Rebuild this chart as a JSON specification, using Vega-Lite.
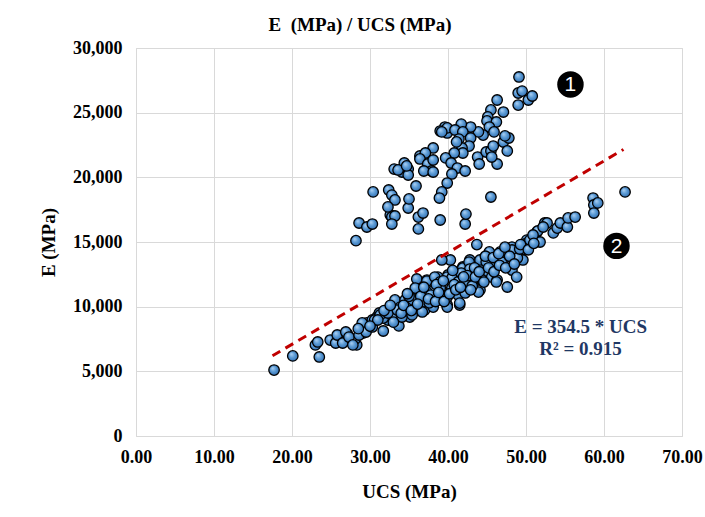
{
  "$schema": "https://vega.github.io/schema/vega-lite/v6.json",
  "width": 546,
  "height": 388,
  "autosize": {"type": "none"},
  "padding": {"left": 136, "top": 48, "right": 23, "bottom": 81},
  "background": "white",
  "title": {"text": "E \u00a0(MPa) / UCS (MPa)", "font": "Liberation Serif", "fontSize": 19, "fontWeight": "bold", "color": "#000000", "anchor": "middle", "dx": -49, "offset": 4},
  "config": {
    "view": {"stroke": "#D9D9D9", "strokeWidth": 1},
    "axis": {"grid": true, "gridColor": "#D9D9D9", "gridWidth": 1, "domain": false, "ticks": false, "labelFlush": false, "labelOverlap": false,
      "labelFont": "Liberation Serif", "labelFontWeight": "bold", "labelFontSize": 18, "labelColor": "#000000",
      "titleFont": "Liberation Serif", "titleFontWeight": "bold", "titleFontSize": 19, "titleColor": "#000000"}
  },
  "datasets": {
    "pts": [
      {"u":17.7,"e":5100},{"u":20.1,"e":6190},{"u":23.0,"e":7040},{"u":23.5,"e":6110},{"u":23.3,"e":7270},{"u":24.9,"e":7420},{"u":25.6,"e":7190},{"u":25.8,"e":7810},{"u":27.1,"e":7890},{"u":27.2,"e":7420},{"u":28.3,"e":7040},{"u":28.1,"e":7500},{"u":29.1,"e":7960},{"u":29.6,"e":8740},{"u":29.1,"e":8580},{"u":30.3,"e":8970},{"u":30.9,"e":9200},{"u":31.7,"e":8120},{"u":31.2,"e":9510},{"u":32.1,"e":9360},{"u":32.3,"e":8970},{"u":32.9,"e":9510},{"u":33.2,"e":10520},{"u":33.9,"e":9970},{"u":33.7,"e":8510},{"u":34.5,"e":10520},{"u":34.7,"e":9590},{"u":35.1,"e":9200},{"u":35.5,"e":9970},{"u":35.5,"e":10670},{"u":36.0,"e":12140},{"u":36.4,"e":11130},{"u":36.8,"e":10520},{"u":37.0,"e":9740},{"u":37.3,"e":12060},{"u":38.1,"e":9970},{"u":38.2,"e":11290},{"u":38.7,"e":12290},{"u":38.9,"e":10670},{"u":39.6,"e":11130},{"u":39.9,"e":10130},{"u":40.0,"e":12450},{"u":40.3,"e":13610},{"u":39.2,"e":13610},{"u":40.5,"e":11440},{"u":40.9,"e":12290},{"u":41.3,"e":10900},{"u":41.5,"e":10130},{"u":41.9,"e":13070},{"u":42.2,"e":11130},{"u":42.6,"e":12060},{"u":42.8,"e":13610},{"u":43.2,"e":11680},{"u":43.7,"e":12840},{"u":44.1,"e":11290},{"u":44.5,"e":13300},{"u":45.0,"e":12680},{"u":45.3,"e":14230},{"u":45.4,"e":13380},{"u":45.6,"e":12290},{"u":46.0,"e":13070},{"u":46.3,"e":12060},{"u":46.7,"e":14230},{"u":47.1,"e":13610},{"u":47.6,"e":11520},{"u":47.7,"e":14380},{"u":48.2,"e":12830},{"u":48.2,"e":14610},{"u":48.8,"e":12290},{"u":49.0,"e":13840},{"u":49.5,"e":14380},{"u":49.6,"e":13610},{"u":50.1,"e":15150},{"u":50.8,"e":15310},{"u":51.4,"e":15770},{"u":51.8,"e":15000},{"u":52.4,"e":16470},{"u":43.7,"e":14800},
      {"u":37.3,"e":11980},{"u":38.3,"e":12290},{"u":39.0,"e":11910},{"u":39.9,"e":12290},{"u":40.5,"e":12220},{"u":41.3,"e":11910},{"u":41.9,"e":12990},{"u":42.7,"e":13450},{"u":42.8,"e":12910},{"u":43.7,"e":12680},{"u":44.1,"e":13610},{"u":44.9,"e":13450},{"u":46.2,"e":13450},{"u":46.9,"e":13450},{"u":47.1,"e":14230},{"u":48.2,"e":14380},{"u":48.9,"e":13760},{"u":46.2,"e":11910},{"u":43.9,"e":11130},{"u":42.2,"e":11060},{"u":41.5,"e":10280},{"u":39.9,"e":9970},{"u":36.8,"e":10360},{"u":35.5,"e":10520},{"u":34.5,"e":9740},{"u":32.2,"e":9740},{"u":32.9,"e":9200},{"u":34.1,"e":9200},{"u":35.4,"e":9360},{"u":36.7,"e":9590},{"u":39.9,"e":10750},{"u":37.3,"e":11130},{"u":39.0,"e":11440},{"u":31.7,"e":9120},{"u":35.8,"e":11440},{"u":38.0,"e":10670},{"u":42.2,"e":11910},{"u":43.1,"e":11600},
      {"u":49.2,"e":14460},{"u":50.1,"e":14920},{"u":50.5,"e":15150},{"u":51.5,"e":15850},{"u":52.7,"e":16470},{"u":53.5,"e":15700},{"u":54.0,"e":16080},{"u":54.4,"e":16470},{"u":55.3,"e":16160},{"u":55.4,"e":16860},{"u":56.3,"e":16930},{"u":58.6,"e":18400},{"u":58.7,"e":17860},{"u":58.7,"e":17240},{"u":59.2,"e":18020},{"u":62.7,"e":18870},{"u":50.9,"e":15540},{"u":52.2,"e":16160},
      {"u":26.5,"e":7190},{"u":26.9,"e":8040},{"u":27.3,"e":7650},{"u":27.8,"e":7040},{"u":28.6,"e":7810},{"u":29.0,"e":8740},{"u":29.5,"e":8040},{"u":30.3,"e":8430},{"u":30.6,"e":8970},{"u":31.3,"e":9360},{"u":32.3,"e":9510},{"u":33.5,"e":9740},{"u":31.0,"e":8970},
      {"u":36.5,"e":10800},{"u":37.6,"e":10300},{"u":38.5,"e":11700},{"u":39.4,"e":12000},{"u":40.8,"e":11700},{"u":41.7,"e":12600},{"u":42.5,"e":12400},{"u":43.4,"e":13000},{"u":44.3,"e":12100},{"u":44.8,"e":13900},{"u":45.8,"e":13800},{"u":46.5,"e":14100},{"u":47.3,"e":14600},{"u":37.8,"e":10900},{"u":35.0,"e":10800},{"u":34.0,"e":9500},{"u":30.0,"e":8500},{"u":28.5,"e":8300},
      {"u":31.8,"e":9700},{"u":32.6,"e":10100},{"u":33.0,"e":8800},{"u":34.3,"e":10100},{"u":34.8,"e":11000},{"u":35.3,"e":9700},{"u":36.1,"e":10200},{"u":36.9,"e":11500},{"u":37.5,"e":10600},{"u":38.4,"e":10400},{"u":38.8,"e":11100},{"u":39.5,"e":10400},{"u":40.2,"e":11000},{"u":40.6,"e":12800},{"u":41.0,"e":11300},{"u":41.6,"e":11500},{"u":42.0,"e":12300},{"u":42.9,"e":11300},{"u":43.5,"e":12300},{"u":44.0,"e":12700},{"u":44.6,"e":11900},{"u":45.2,"e":13000},{"u":45.9,"e":12700},{"u":46.6,"e":13200},{"u":47.4,"e":13000},{"u":47.9,"e":13900},{"u":48.5,"e":13300},{"u":49.3,"e":14800},{"u":50.3,"e":14400},{"u":51.0,"e":14900},
      {"u":28.2,"e":15100},{"u":28.6,"e":16470},{"u":29.6,"e":16160},{"u":30.3,"e":16390},{"u":30.4,"e":18870},{"u":32.4,"e":19020},{"u":32.6,"e":17090},{"u":32.8,"e":18630},{"u":33.2,"e":18250},{"u":32.3,"e":17710},{"u":32.8,"e":16930},{"u":33.2,"e":17010},{"u":32.8,"e":16390},{"u":34.9,"e":17630},{"u":35.0,"e":18330},{"u":35.9,"e":19330},{"u":36.2,"e":16930},{"u":36.2,"e":16010},{"u":33.1,"e":20640},{"u":34.4,"e":21110},{"u":34.1,"e":20410},{"u":34.9,"e":20640},{"u":34.9,"e":20180},{"u":36.4,"e":21650},
      {"u":39.6,"e":23890},{"u":39.0,"e":23580},{"u":39.9,"e":23430},{"u":38.1,"e":22270},{"u":37.1,"e":21880},{"u":36.4,"e":21420},{"u":37.4,"e":21030},{"u":37.9,"e":20490},{"u":33.6,"e":20570},{"u":34.7,"e":20880},{"u":36.9,"e":20490},
      {"u":49.1,"e":27760},{"u":49.0,"e":26520},{"u":49.5,"e":26670},{"u":49.0,"e":25590},{"u":50.3,"e":25980},{"u":50.8,"e":26290},{"u":46.3,"e":25980},{"u":45.5,"e":25210},{"u":47.1,"e":25050},{"u":45.1,"e":24670},{"u":45.0,"e":24360},{"u":46.2,"e":24280},{"u":45.3,"e":23890},{"u":45.9,"e":23510},{"u":44.5,"e":23270},{"u":43.9,"e":23510},{"u":42.9,"e":23890},{"u":41.7,"e":24120},{"u":39.9,"e":23820},{"u":39.2,"e":23510},{"u":40.9,"e":23660},{"u":41.9,"e":23510},{"u":41.4,"e":22960},{"u":42.9,"e":23040},{"u":42.7,"e":22420},{"u":41.8,"e":22270},{"u":41.1,"e":22740},{"u":41.9,"e":21880},{"u":40.8,"e":21880},{"u":39.7,"e":21500},{"u":40.4,"e":21110},{"u":41.2,"e":20720},{"u":42.2,"e":20490},{"u":40.5,"e":20260},{"u":39.9,"e":19560},{"u":38.1,"e":21340},{"u":38.1,"e":20410},{"u":39.2,"e":18870},{"u":38.9,"e":18400},{"u":45.5,"e":18480},{"u":43.8,"e":21570},{"u":44.0,"e":21030},{"u":44.9,"e":21960},{"u":45.5,"e":22040},{"u":45.8,"e":22420},{"u":46.3,"e":21030},{"u":47.1,"e":22730},{"u":47.6,"e":22040},{"u":47.8,"e":23040},{"u":47.3,"e":23200},{"u":45.6,"e":21570},
      {"u":42.2,"e":16390},{"u":42.3,"e":17160},{"u":39.0,"e":16700},{"u":36.8,"e":17240}
    ],
    "trend": [{"u":17.5,"e":6204},{"u":62.5,"e":22156}],
    "badges": [{"u":55.7,"e":27180,"t":"1"},{"u":61.6,"e":14700,"t":"2"}],
    "notes": [{"u":57.0,"e":8430,"t":"E = 354.5 * UCS"},{"u":57.0,"e":6730,"t":"R² = 0.915"}]
  },
  "layer": [
    {
      "data": {"name": "pts"},
      "mark": {"type": "point", "filled": true, "size": 110, "opacity": 1, "stroke": "#000000", "strokeWidth": 1.3,
        "fill": {"gradient": "radial", "x1": 0.35, "y1": 0.3, "r1": 0, "x2": 0.5, "y2": 0.5, "r2": 0.55,
          "stops": [{"offset": 0, "color": "#B5D5F5"}, {"offset": 0.5, "color": "#5B9BD5"}, {"offset": 1, "color": "#2E6AAE"}]}},
      "encoding": {
        "x": {"field": "u", "type": "quantitative", "title": "UCS (MPa)",
          "scale": {"domain": [0, 70], "nice": false, "zero": true},
          "axis": {"values": [0, 10, 20, 30, 40, 50, 60, 70], "format": ".2f", "labelPadding": 12, "titlePadding": 16}},
        "y": {"field": "e", "type": "quantitative", "title": "E (MPa)",
          "scale": {"domain": [0, 30000], "nice": false},
          "axis": {"values": [0, 5000, 10000, 15000, 20000, 25000, 30000], "format": ",d", "labelPadding": 14, "titlePadding": 14}}
      }
    },
    {
      "data": {"name": "trend"},
      "mark": {"type": "line", "color": "#C00000", "strokeWidth": 3, "strokeDash": [9, 6]},
      "encoding": {"x": {"field": "u", "type": "quantitative"}, "y": {"field": "e", "type": "quantitative"}}
    },
    {
      "data": {"name": "badges"},
      "mark": {"type": "point", "filled": true, "size": 700, "color": "#000000", "opacity": 1},
      "encoding": {"x": {"field": "u", "type": "quantitative"}, "y": {"field": "e", "type": "quantitative"}}
    },
    {
      "data": {"name": "badges"},
      "mark": {"type": "text", "color": "#FFFFFF", "font": "Liberation Sans", "fontSize": 21, "align": "center", "baseline": "middle", "dy": 1},
      "encoding": {"x": {"field": "u", "type": "quantitative"}, "y": {"field": "e", "type": "quantitative"}, "text": {"field": "t"}}
    },
    {
      "data": {"name": "notes"},
      "mark": {"type": "text", "color": "#1F3864", "font": "Liberation Serif", "fontWeight": "bold", "fontSize": 19, "align": "center", "baseline": "middle"},
      "encoding": {"x": {"field": "u", "type": "quantitative"}, "y": {"field": "e", "type": "quantitative"}, "text": {"field": "t"}}
    }
  ]
}
